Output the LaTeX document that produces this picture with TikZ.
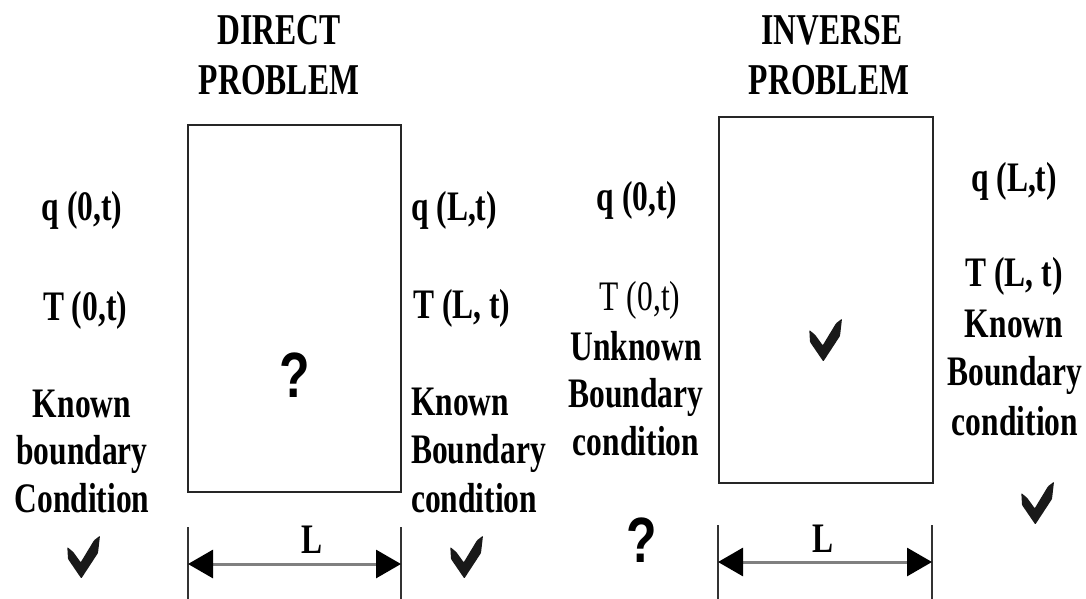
\documentclass[tikz,border=0pt]{standalone}
\usepackage{fontspec}
\usetikzlibrary{arrows.meta}
\newfontfamily\lblfont[FakeStretch=0.75]{Liberation Serif}
\newfontfamily\ttlfont[FakeStretch=0.72]{Liberation Serif}
\newfontfamily\qmfont[FakeStretch=0.78]{Liberation Sans}
\begin{document}
\begin{tikzpicture}[x=1pt,y=-1pt,
  lbl/.style={font=\lblfont\bfseries\fontsize{42}{47}\selectfont, inner sep=0pt, anchor=base},
  lblw/.style={lbl, anchor=base west},
  ttl/.style={font=\ttlfont\bfseries\fontsize{44}{50}\selectfont, inner sep=0pt, anchor=base},
  qm/.style={font=\qmfont\bfseries\fontsize{64}{70}\selectfont, inner sep=0pt, anchor=base},
  box/.style={draw=black!85, line width=2.4pt, inner sep=0pt, fill=white},
  tick/.style={draw=black!80, line width=1.8pt},
  dim/.style={draw=black!50, line width=3pt,
    {Triangle[length=25pt,width=28pt,color=black]}-{Triangle[length=25pt,width=28pt,color=black]}},
  chk/.pic={\fill[black!90, rounded corners=0.8pt]
    (-15.7,-11) -- (-9.7,-6) -- (-2.3,4.3) -- (11,-17.7) -- (17,-22.3)
    -- (15,-5) -- (-1.7,20.5) -- (-15,1) -- cycle;}
]
\useasboundingbox (0,0) rectangle (1086,599);

% ---------------- DIRECT PROBLEM ----------------
\node[ttl] (dt1) at (279,45) {DIRECT};
\node[ttl] (dt2) at (279,95) {PROBLEM};
\node[box, minimum width=213pt, minimum height=367pt] (dbox) at (294.5,308.5) {};
\node[qm] (dq) at (295,397) {?};

\node[lbl] (dq0) at (82,220) {q (0,t)};
\node[lbl] (dT0) at (85,320) {T (0,t)};
\node[lbl] (dk1) at (82,417) {Known};
\node[lbl] (dk2) at (82,464) {boundary};
\node[lbl] (dk3) at (82,512) {Condition};
\pic at (83,558) {chk};

\node[lblw] (dqL) at (411,220) {q (L,t)};
\node[lblw] (dTL) at (413,318) {T (L, t)};
\node[lblw] (dr1) at (411,415) {Known};
\node[lblw] (dr2) at (411,463) {Boundary};
\node[lblw] (dr3) at (411,512) {condition};
\pic at (466,558) {chk};

\coordinate (dlt) at (188,527); \coordinate (dlb) at (188,599);
\coordinate (drt) at (401,527); \coordinate (drb) at (401,599);
\coordinate (dal) at (188,564); \coordinate (dar) at (401,564);
\draw[tick] (dlt) -- (dlb);
\draw[tick] (drt) -- (drb);
\draw[dim] (dal) -- (dar);
\node[lbl] (dL) at (312,553) {L};

% ---------------- INVERSE PROBLEM ----------------
\node[ttl] (it1) at (832,45) {INVERSE};
\node[ttl] (it2) at (829,95) {PROBLEM};
\node[box, minimum width=214pt, minimum height=366pt] (ibox) at (826,300) {};
\pic at (825,341) {chk};

\node[lbl] (iq0) at (637,210) {q (0,t)};
\node[lbl, font=\lblfont\fontsize{42}{47}\selectfont] (iT0) at (640,310) {T (0,t)};
\node[lbl] (iu1) at (636,360) {Unknown};
\node[lbl] (iu2) at (636,407) {Boundary};
\node[lbl] (iu3) at (636,455) {condition};
\node[qm] (iq) at (641.5,562) {?};

\node[lbl] (iqL) at (1014,191) {q (L,t)};
\node[lbl] (iTL) at (1014,286) {T (L, t)};
\node[lbl] (ik1) at (1014,337) {Known};
\node[lbl] (ik2) at (1015,385) {Boundary};
\node[lbl] (ik3) at (1015,435) {condition};
\pic at (1037,504) {chk};

\coordinate (ilt) at (718,525); \coordinate (ilb) at (718,599);
\coordinate (irt) at (932,525); \coordinate (irb) at (932,599);
\coordinate (ial) at (718,562); \coordinate (iar) at (932,562);
\draw[tick] (ilt) -- (ilb);
\draw[tick] (irt) -- (irb);
\draw[dim] (ial) -- (iar);
\node[lbl] (iL) at (823,552) {L};
\end{tikzpicture}
\end{document}
